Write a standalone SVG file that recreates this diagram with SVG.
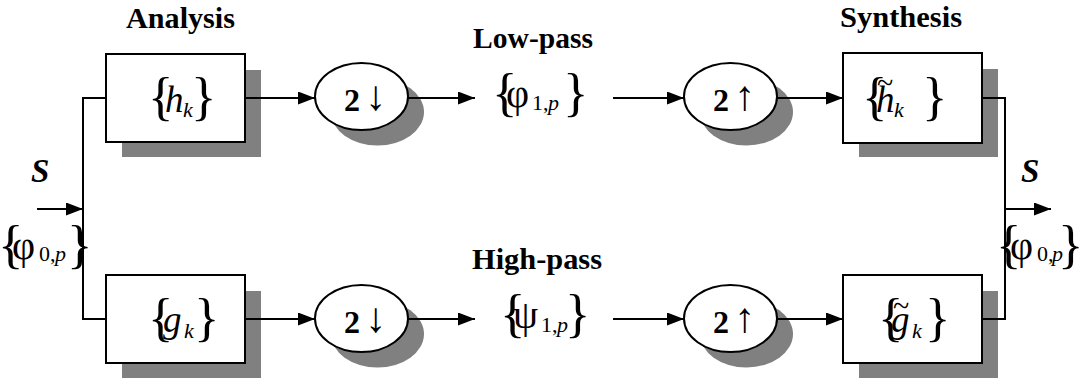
<svg xmlns="http://www.w3.org/2000/svg" width="1084" height="379" viewBox="0 0 1084 379">
<defs>
<marker id="ah" markerWidth="17" markerHeight="13" refX="17" refY="6.5" orient="auto" markerUnits="userSpaceOnUse">
<path d="M0,0 L17,6.5 L0,13 Z" fill="#000"/>
</marker>
<style>
text{font-family:"Liberation Serif","Times New Roman",serif;fill:#000}
.title{font-size:29px;font-weight:bold}
.sv{font-size:33px;font-weight:bold;font-style:italic}
.br{font-size:53px}
.it{font-style:italic;font-size:37px}
.gr{font-size:40px}
.sub{font-size:22px}
.subi{font-size:22px;font-style:italic}
.op{font-size:32px;font-weight:bold}
.arr{font-size:42px;font-weight:normal}
.tl{font-size:30px}
.shadow{fill:#808080;stroke:none}
.box{fill:#fff;stroke:#000;stroke-width:2}
.wire{fill:none;stroke:#000;stroke-width:2}
</style>
</defs>
<rect width="1084" height="379" fill="#fff"/>

<g id="titles">
<text class="title" x="126" y="28" textLength="109" lengthAdjust="spacingAndGlyphs">Analysis</text>
<text class="title" x="473" y="48" textLength="120" lengthAdjust="spacingAndGlyphs">Low-pass</text>
<text class="title" x="840" y="27" textLength="122" lengthAdjust="spacingAndGlyphs">Synthesis</text>
<text class="title" x="472" y="269" textLength="130" lengthAdjust="spacingAndGlyphs">High-pass</text>
</g>

<g id="shadows">
<rect class="shadow" x="122" y="70" width="139" height="87"/>
<rect class="shadow" x="122" y="291" width="139" height="87"/>
<ellipse class="shadow" cx="377.5" cy="112" rx="46.5" ry="33.5"/>
<ellipse class="shadow" cx="377.5" cy="334" rx="46.5" ry="33.5"/>
<ellipse class="shadow" cx="746.5" cy="112" rx="46.5" ry="33.5"/>
<ellipse class="shadow" cx="746.5" cy="334" rx="46.5" ry="33.5"/>
<rect class="shadow" x="859" y="69" width="139" height="88"/>
<rect class="shadow" x="859" y="291" width="139" height="87"/>
</g>

<g id="connectors">
<path class="wire" d="M106,98 H83 V319 H106"/>
<line class="wire" x1="37" y1="209" x2="83" y2="209" marker-end="url(#ah)"/>
<line class="wire" x1="245" y1="98" x2="315" y2="98" marker-end="url(#ah)"/>
<line class="wire" x1="245" y1="319" x2="315" y2="319" marker-end="url(#ah)"/>
<line class="wire" x1="408" y1="98" x2="475" y2="98" marker-end="url(#ah)"/>
<line class="wire" x1="408" y1="319" x2="475" y2="319" marker-end="url(#ah)"/>
<line class="wire" x1="613" y1="98" x2="684" y2="98" marker-end="url(#ah)"/>
<line class="wire" x1="613" y1="319" x2="684" y2="319" marker-end="url(#ah)"/>
<line class="wire" x1="777" y1="98" x2="843" y2="98" marker-end="url(#ah)"/>
<line class="wire" x1="777" y1="319" x2="843" y2="319" marker-end="url(#ah)"/>
<path class="wire" d="M982,98 H1005 V319 H982"/>
<line class="wire" x1="1005" y1="209" x2="1051" y2="209" marker-end="url(#ah)"/>
</g>

<g id="h-analysis">
<rect class="box" x="106" y="54" width="139" height="88"/>
<text x="148" y="114"><tspan class="br">{</tspan><tspan class="it" x="165" y="112">h</tspan><tspan class="subi" x="183" y="117">k</tspan><tspan class="br" x="191" y="114">}</tspan></text>
</g>

<g id="g-analysis">
<rect class="box" x="106" y="275" width="139" height="88"/>
<text x="148" y="335"><tspan class="br">{</tspan><tspan class="it" x="163" y="332">g</tspan><tspan class="subi" x="184" y="338">k</tspan><tspan class="br" x="194" y="335">}</tspan></text>
</g>

<g id="down-low">
<ellipse class="box" cx="361.5" cy="96.5" rx="46.5" ry="33.5"/>
<text x="344" y="111"><tspan class="op">2</tspan><tspan class="arr" x="365" y="110">↓</tspan></text>
</g>

<g id="down-high">
<ellipse class="box" cx="361.5" cy="318.5" rx="46.5" ry="33.5"/>
<text x="344" y="333"><tspan class="op">2</tspan><tspan class="arr" x="365" y="332">↓</tspan></text>
</g>

<g id="phi1">
<text x="492" y="110"><tspan class="br">{</tspan><tspan class="gr" x="506" y="107">φ</tspan><tspan class="sub" x="532" y="110">1,</tspan><tspan class="subi" x="548">p</tspan><tspan class="br" x="563" y="110">}</tspan></text>
</g>

<g id="psi1">
<text x="500" y="331"><tspan class="br">{</tspan><tspan class="gr" x="513" y="328">ψ</tspan><tspan class="sub" x="541" y="332">1,</tspan><tspan class="subi" x="557">p</tspan><tspan class="br" x="565" y="331">}</tspan></text>
</g>

<g id="up-low">
<ellipse class="box" cx="730.5" cy="96.5" rx="46.5" ry="33.5"/>
<text x="713" y="111"><tspan class="op">2</tspan><tspan class="arr" x="734" y="110">↑</tspan></text>
</g>

<g id="up-high">
<ellipse class="box" cx="730.5" cy="318.5" rx="46.5" ry="33.5"/>
<text x="713" y="333"><tspan class="op">2</tspan><tspan class="arr" x="734" y="332">↑</tspan></text>
</g>

<g id="h-synthesis">
<rect class="box" x="843" y="53" width="139" height="90"/>
<text x="862" y="114"><tspan class="br">{</tspan><tspan class="it" x="876" y="112">h</tspan><tspan class="subi" x="894" y="117">k</tspan><tspan class="br" x="922" y="114">}</tspan></text>
<text class="tl" x="877" y="93">~</text>
</g>

<g id="g-synthesis">
<rect class="box" x="843" y="275" width="139" height="88"/>
<text x="878" y="335"><tspan class="br">{</tspan><tspan class="it" x="891" y="332">g</tspan><tspan class="subi" x="912" y="338">k</tspan><tspan class="br" x="925" y="335">}</tspan></text>
<text class="tl" x="893" y="316">~</text>
</g>

<g id="signals">
<text class="sv" x="31" y="182">S</text>
<text x="-2" y="262"><tspan class="br">{</tspan><tspan class="gr" x="12" y="259">φ</tspan><tspan class="sub" x="39" y="261">0,</tspan><tspan class="subi" x="55">p</tspan><tspan class="br" x="67" y="262">}</tspan></text>
<text class="sv" x="1021" y="182">S</text>
<text x="996" y="262"><tspan class="br">{</tspan><tspan class="gr" x="1010" y="259">φ</tspan><tspan class="sub" x="1037" y="261">0,</tspan><tspan class="subi" x="1052">p</tspan><tspan class="br" x="1058" y="262">}</tspan></text>
</g>
</svg>
